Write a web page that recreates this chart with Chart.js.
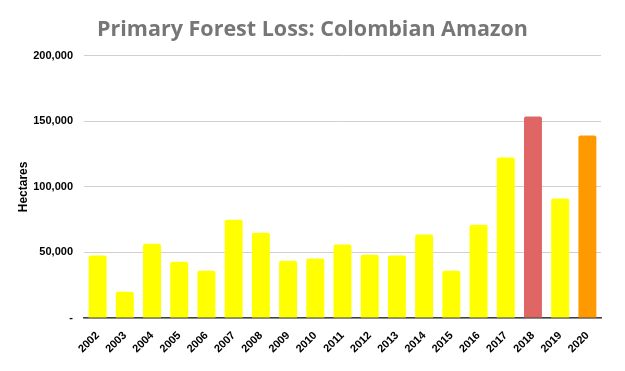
<!DOCTYPE html>
<html>
<head>
<meta charset="utf-8">
<script src="https://cdn.jsdelivr.net/npm/chart.js@4.4.0/dist/chart.umd.min.js"></script>
<style>
    html, body { margin: 0; padding: 0; background: #fff; }
    #wrap { width: 625px; height: 371px; }
</style>
</head>
<body>
<div id="wrap"><canvas id="chart" width="625" height="371"></canvas></div>
<script>
// ─── Data ─────────────────────────────────────────────
const years = ['2002', '2003', '2004', '2005', '2006', '2007', '2008', '2009', '2010', '2011',
               '2012', '2013', '2014', '2015', '2016', '2017', '2018', '2019', '2020'];
const hectares = [47600, 20100, 56700, 43000, 36100, 75000, 65100, 43700, 45300, 56000,
                  48300, 47600, 63600, 36100, 71200, 122400, 153700, 91100, 139200];
const yTicks = [0, 50000, 100000, 150000, 200000];

// ─── Colours ──────────────────────────────────────────
const barColors = years.map(y => y === '2018' ? '#e06666' : y === '2020' ? '#ff9900' : '#ffff00');

const FONT = "'Liberation Sans', Arial, sans-serif";

// ─── Chart ────────────────────────────────────────────
new Chart(document.getElementById('chart'), {
    type: 'bar',
    data: {
        labels: years,
        datasets: [{
            data: hectares,
            backgroundColor: barColors,
            borderWidth: 0,
            borderRadius: 2,
            categoryPercentage: 0.66,
            barPercentage: 1,
        }],
    },
    options: {
        responsive: false,
        animation: false,
        layout: { padding: { left: 24, right: 24, top: 0, bottom: 0 } },
        plugins: {
            legend: { display: false },
            tooltip: { enabled: false },
            title: {
                display: true,
                text: 'Primary Forest Loss: Colombian Amazon',
                color: '#767676',
                font: { family: "'Open Sans', sans-serif", size: 21.5, weight: 'bold' },
                padding: { top: 17, bottom: 13 },
            },
        },
        scales: {
            x: {
                grid: { display: false },
                border: { display: true, color: '#404040', width: 1.5 },
                ticks: {
                    color: '#000',
                    font: { family: FONT, size: 11, weight: 'bold' },
                    maxRotation: 45,
                    minRotation: 45,
                    padding: 3,
                },
                afterFit: s => { s.height = 53; },
            },
            y: {
                min: 0,
                max: 200000,
                afterBuildTicks: s => { s.ticks = yTicks.map(v => ({ value: v })); },
                grid: { color: '#d0d0d0', lineWidth: 1, drawTicks: false },
                border: { display: false },
                ticks: {
                    color: '#000',
                    font: { family: FONT, size: 11, weight: 'bold' },
                    padding: 11,
                    callback: v => v === 0 ? '-' : v.toLocaleString('en-US'),
                },
                title: {
                    display: true,
                    text: 'Hectares',
                    color: '#000',
                    font: { family: FONT, size: 12, weight: 'bold' },
                    padding: { top: -8, bottom: 6 },
                },
                afterFit: s => { s.width = 60; },
            },
        },
    },
});
</script>
</body>
</html>
